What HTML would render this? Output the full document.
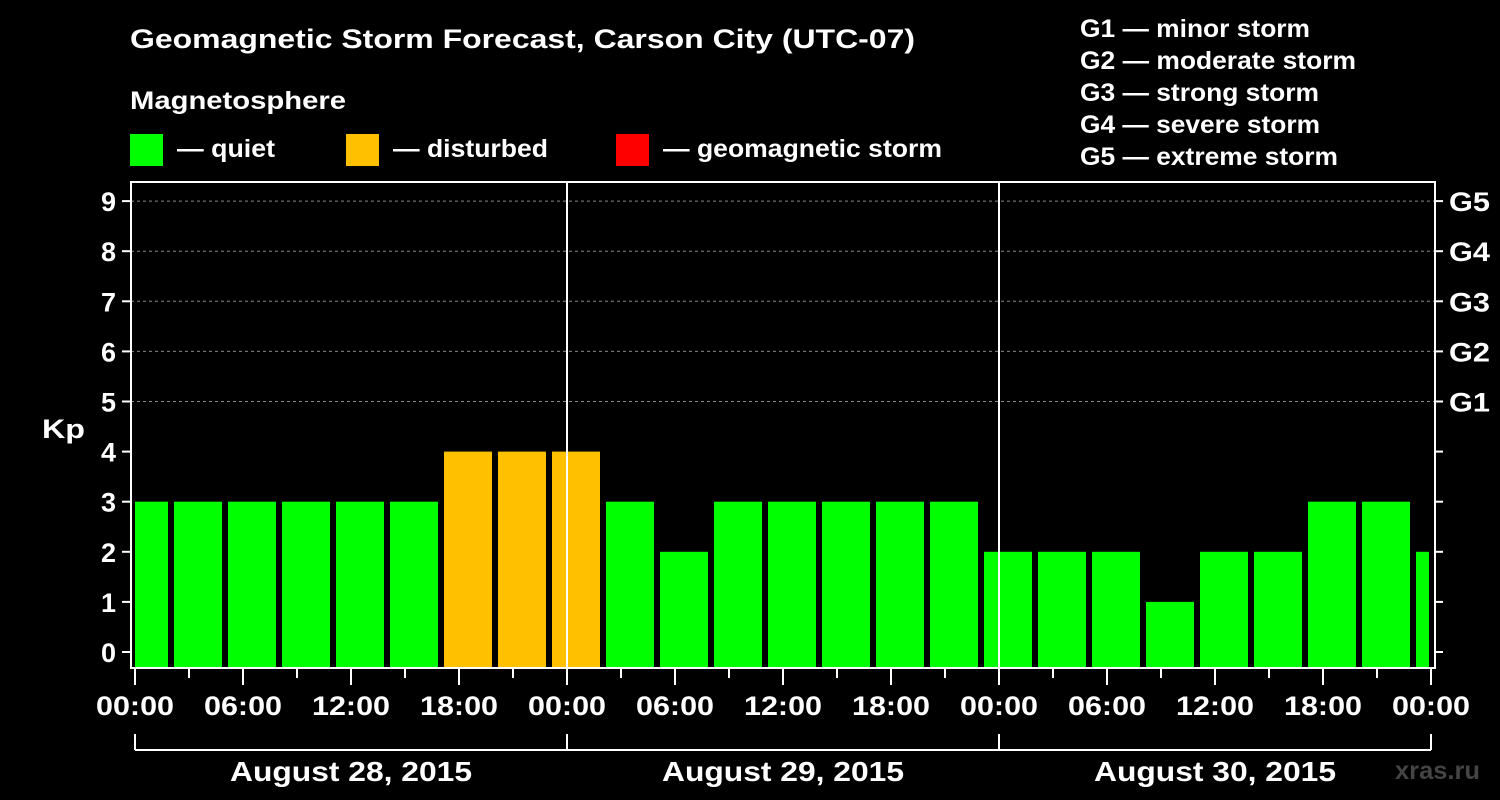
<!DOCTYPE html>
<html><head><meta charset="utf-8"><style>
html,body{margin:0;padding:0;background:#000;}
svg{display:block;font-family:"Liberation Sans",Arial,sans-serif;font-weight:bold;}
</style></head><body>
<svg id="c" width="1500" height="800" viewBox="0 0 1500 800">
<text x="130" y="48" fill="#fff" font-size="27" textLength="785" lengthAdjust="spacingAndGlyphs">Geomagnetic Storm Forecast, Carson City (UTC-07)</text>
<text x="130" y="109" fill="#fff" font-size="25" textLength="216" lengthAdjust="spacingAndGlyphs">Magnetosphere</text>
<g><rect x="130" y="134" width="33" height="32" fill="#00ff00"/><text x="177" y="157" fill="#fff" font-size="25" textLength="98" lengthAdjust="spacingAndGlyphs">— quiet</text></g>
<g><rect x="346" y="134" width="33" height="32" fill="#ffc000"/><text x="393" y="157" fill="#fff" font-size="25" textLength="155" lengthAdjust="spacingAndGlyphs">— disturbed</text></g>
<g><rect x="616" y="134" width="33" height="32" fill="#ff0000"/><text x="663" y="157" fill="#fff" font-size="25" textLength="279" lengthAdjust="spacingAndGlyphs">— geomagnetic storm</text></g>
<g font-size="25" fill="#fff">
<text x="1080" y="37" textLength="230" lengthAdjust="spacingAndGlyphs">G1 — minor storm</text>
<text x="1080" y="69" textLength="276" lengthAdjust="spacingAndGlyphs">G2 — moderate storm</text>
<text x="1080" y="101" textLength="239" lengthAdjust="spacingAndGlyphs">G3 — strong storm</text>
<text x="1080" y="133" textLength="240" lengthAdjust="spacingAndGlyphs">G4 — severe storm</text>
<text x="1080" y="165" textLength="258" lengthAdjust="spacingAndGlyphs">G5 — extreme storm</text>
</g>
<text x="42" y="438" fill="#fff" font-size="27" textLength="43" lengthAdjust="spacingAndGlyphs">Kp</text>
<text x="1395" y="779" fill="#444" font-size="25" textLength="85" lengthAdjust="spacingAndGlyphs">xras.ru</text>
<g id="plot"></g>
</svg>
<script>
const kpValues=[3,3,3,3,3,3,4,4,4,3,2,3,3,3,3,3,2,2,2,1,2,2,3,3,2];
const yTicks=[0,1,2,3,4,5,6,7,8,9];
const gLabels=["G1","G2","G3","G4","G5"];
const hourLabels=["00:00","06:00","12:00","18:00","00:00","06:00","12:00","18:00","00:00","06:00","12:00","18:00","00:00"];
const dayLabels=["August 28, 2015","August 29, 2015","August 30, 2015"];

const NS="http://www.w3.org/2000/svg";
const L=131,R=1435,T=182,B=668,X0=135,PXH=18;
const x=h=>X0+h*PXH;
const y=v=>652-v*50.1;
const g=document.getElementById('plot');
function mk(tag,attrs,parent){const e=document.createElementNS(NS,tag);for(const k in attrs)e.setAttribute(k,attrs[k]);(parent||g).appendChild(e);return e;}
yTicks.forEach(v=>{if(v>=5){const l=mk('line',{x1:L,x2:R,y1:y(v),y2:y(v),stroke:'#888','stroke-dasharray':'3,3','stroke-width':1});

}});
const clip=mk('clipPath',{id:'pc'});mk('rect',{x:L+4,y:T,width:1430-L-4-1,height:B-T},clip);
kpValues.forEach((v,i)=>{const xs=x(i*3)-15;
const col=v>=5?'#ff0000':(v>=4?'#ffc000':'#00ff00');
const r=mk('rect',{x:xs,y:y(v),width:48,height:B-y(v),fill:col,'clip-path':'url(#pc)'});

});
[1,2].forEach(d=>{const l=mk('line',{x1:x(d*24),x2:x(d*24),y1:T,y2:B,stroke:'#fff','stroke-width':2});

});
const f=mk('rect',{x:L,y:T,width:R-L,height:B-T,fill:'none',stroke:'#fff','stroke-width':2});


yTicks.forEach(v=>{mk('line',{x1:122,x2:L,y1:y(v),y2:y(v),stroke:'#fff','stroke-width':2});
mk('line',{x1:R,x2:R+8,y1:y(v),y2:y(v),stroke:'#fff','stroke-width':2});
const t=mk('text',{x:116,y:y(v)+10,fill:'#fff','font-size':27,'text-anchor':'end'});t.textContent=v;

});
gLabels.forEach((s,i)=>{const t=mk('text',{x:1449,y:y(i+5)+10,fill:'#fff','font-size':27,textLength:41,lengthAdjust:'spacingAndGlyphs'});t.textContent=s;

});
for(let h=0;h<=72;h+=3){const major=h%6===0;mk('line',{x1:x(h),x2:x(h),y1:B,y2:B+(major?17:10),stroke:'#fff','stroke-width':2});}
hourLabels.forEach((s,i)=>{const t=mk('text',{x:x(i*6)-39,y:715,fill:'#fff','font-size':27,textLength:78,lengthAdjust:'spacingAndGlyphs'});t.textContent=s;

});
mk('line',{x1:x(0),x2:x(72),y1:750,y2:750,stroke:'#fff','stroke-width':2});
for(let d=0;d<=3;d++)mk('line',{x1:x(d*24),x2:x(d*24),y1:734,y2:750,stroke:'#fff','stroke-width':2});
dayLabels.forEach((s,i)=>{const t=mk('text',{x:x(i*24+12)-121,y:781,fill:'#fff','font-size':28,textLength:242,lengthAdjust:'spacingAndGlyphs'});t.textContent=s;

});
</script>
</body></html>
